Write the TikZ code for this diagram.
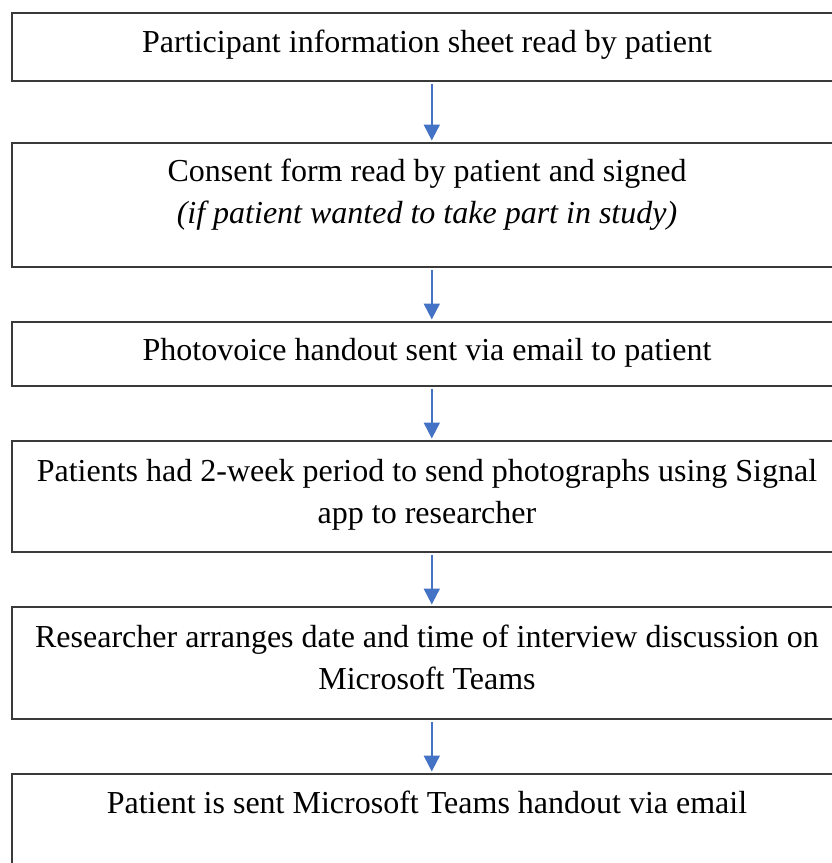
\documentclass[tikz,border=0pt]{standalone}
\usepackage{fontspec}
\setmainfont{Liberation Serif}
\usetikzlibrary{arrows.meta}
\definecolor{arrowblue}{HTML}{4472C4}
\definecolor{boxline}{HTML}{3A3A3A}
\begin{document}
\begin{tikzpicture}[x=1pt,y=-1pt,
  stepbox/.style={draw=boxline,line width=1.6pt,rectangle,inner sep=0pt,
    minimum width=840pt,anchor=north west},
  steptext/.style={font=\fontsize{32}{42}\selectfont,align=center,anchor=base,inner sep=0pt},
  flow/.style={draw=arrowblue,line width=2pt,
    -{Triangle[width=16pt,length=16pt]},shorten <=2pt,shorten >=1.5pt}]
\useasboundingbox (0,0) rectangle (832,863);
\begin{scope}
\clip (0,0) rectangle (832,863);
% boxes (wider than the page on the right)
\node[stepbox,minimum height=68pt]  (b1) at (11,12)  {};
\node[stepbox,minimum height=124pt] (b2) at (11,142) {};
\node[stepbox,minimum height=64pt]  (b3) at (11,321) {};
\node[stepbox,minimum height=111pt] (b4) at (11,440) {};
\node[stepbox,minimum height=112pt] (b5) at (11,606) {};
\node[stepbox,minimum height=120pt] (b6) at (11,773) {};
\end{scope}
% labels (anchored on the baseline of the last line)
\node[steptext] (t1) at (427,52) {Participant information sheet read by patient};
\node[steptext] (t2) at (427,223) {Consent form read by patient and signed\\\textit{(if patient wanted to take part in study)}};
\node[steptext] (t3) at (427,360) {Photovoice handout sent via email to patient};
\node[steptext] (t4) at (427,523) {Patients had 2-week period to send photographs using Signal\\app to researcher};
\node[steptext] (t5) at (427,689) {Researcher arranges date and time of interview discussion on\\Microsoft Teams};
\node[steptext] (t6) at (427,813) {Patient is sent Microsoft Teams handout via email};
% connectors
\draw[flow] (b1.south) -- (b2.north);
\draw[flow] (b2.south) -- (b3.north);
\draw[flow] (b3.south) -- (b4.north);
\draw[flow] (b4.south) -- (b5.north);
\draw[flow] (b5.south) -- (b6.north);
\end{tikzpicture}
\end{document}
